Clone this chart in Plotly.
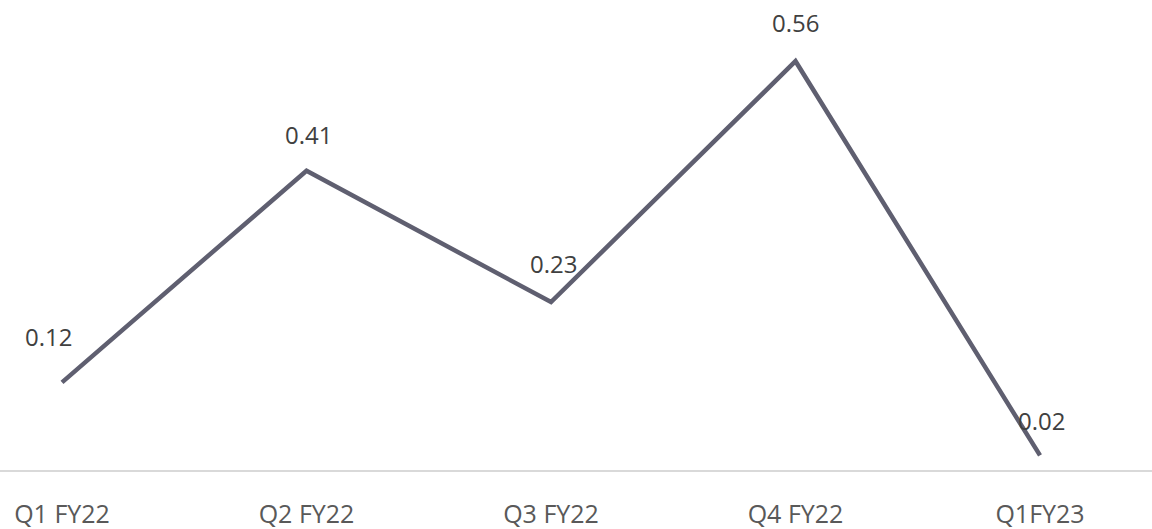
import plotly.graph_objects as go

categories = ["Q1 FY22", "Q2 FY22", "Q3 FY22", "Q4 FY22", "Q1FY23"]
values = [0.12, 0.41, 0.23, 0.56, 0.02]
value_labels = ["0.12", "0.41", "0.23", "0.56", "0.02"]

# label offsets in pixels (style only)
label_xshift = [-14, 2, 2, 0, 1]
label_yshift = [46, 36, 39, 39, 35]

LINE_COLOR = "#5f5f70"
TEXT_COLOR = "#404040"
FONT = "Open Sans"

fig = go.Figure()
fig.add_trace(go.Scatter(
    x=categories, y=values, mode="lines",
    line=dict(color=LINE_COLOR, width=4.5),
    hoverinfo="skip", showlegend=False, cliponaxis=False,
))

for c, v, t, dx, dy in zip(categories, values, value_labels, label_xshift, label_yshift):
    fig.add_annotation(x=c, y=v, text=t, showarrow=False,
                       xshift=dx, yshift=dy,
                       font=dict(family=FONT, size=24, color=TEXT_COLOR))

fig.update_layout(
    width=1152, height=529,
    margin=dict(l=0, r=0, t=32, b=59, autoexpand=False),
    paper_bgcolor="white", plot_bgcolor="white",
    xaxis=dict(type="category", range=[-0.2536, 4.458], automargin=False,
               showline=True, linecolor="#d9d9d9", linewidth=2,
               showgrid=False, zeroline=False, ticks="",
               tickfont=dict(family=FONT, size=25, color="#595959"),
               ticklabelstandoff=21),
    yaxis=dict(range=[0, 0.6], visible=False, showgrid=False, zeroline=False,
               automargin=False),
)

fig.write_html("out.html",
               config={"displayModeBar": False},
               post_script="document.body.style.margin='0';document.body.style.overflow='hidden';")
